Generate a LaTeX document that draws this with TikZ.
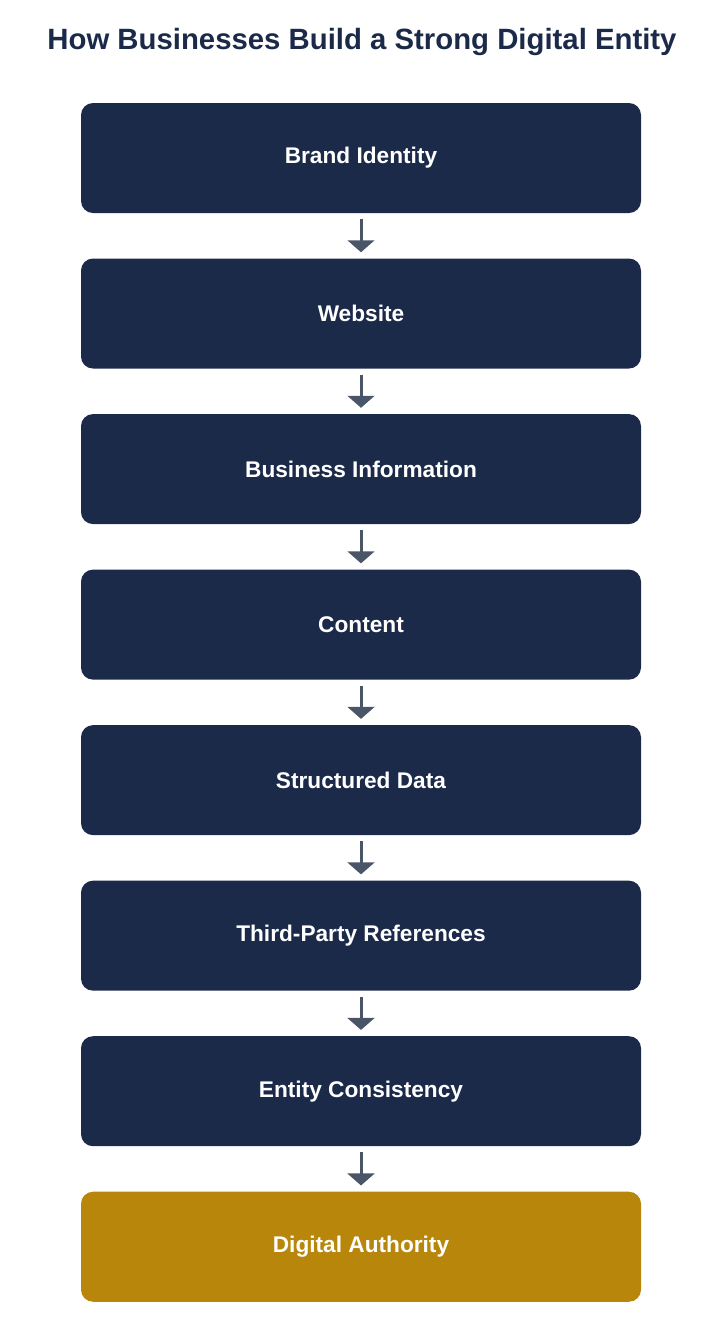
\documentclass[tikz,border=0pt]{standalone}
\usepackage{fontspec}
\setmainfont{Liberation Sans}
\usetikzlibrary{positioning,arrows.meta}
\definecolor{navy}{HTML}{1C2A4A}
\definecolor{gold}{HTML}{B8860B}
\definecolor{arrowgray}{HTML}{4A5568}
\begin{document}
\begin{tikzpicture}[x=0.75pt,y=-0.75pt,font=\bfseries]
        % Setup the style for the steps
        \tikzset{step style/.style={rectangle, rounded corners=9pt,
                                    minimum width=420pt, minimum height=82.5pt,
                                    fill=navy, text=white, font=\fontsize{17}{20}\bfseries},
                 goal style/.style={step style, fill=gold},
                 flow/.style={-{Triangle[width=20pt,length=9pt]}, line width=2.25pt,
                              draw=arrowgray, shorten <=4.5pt, shorten >=4.5pt}}
        \useasboundingbox (0,0) rectangle (724,1329);

        % Title
        \node[text=navy, font=\fontsize{22}{26}\bfseries] (title) at (362,42)
            {How Businesses Build a Strong Digital Entity};

        % Draw the steps
        \node[step style] at (361,158) (brand) {Brand Identity};
        \node[step style, below=33.75pt of brand] (website) {Website};
        \node[step style, below=33.75pt of website] (info) {Business Information};
        \node[step style, below=33.75pt of info] (content) {Content};
        \node[step style, below=33.75pt of content] (data) {Structured Data};
        \node[step style, below=33.75pt of data] (refs) {Third-Party References};
        \node[step style, below=33.75pt of refs] (consistency) {Entity Consistency};
        \node[goal style, below=33.75pt of consistency] (authority) {Digital Authority};

        % Connect the steps
        \foreach \a/\b in {brand/website, website/info, info/content, content/data,
                           data/refs, refs/consistency, consistency/authority}
            \draw[flow] (\a) -- (\b);
\end{tikzpicture}
\end{document}
